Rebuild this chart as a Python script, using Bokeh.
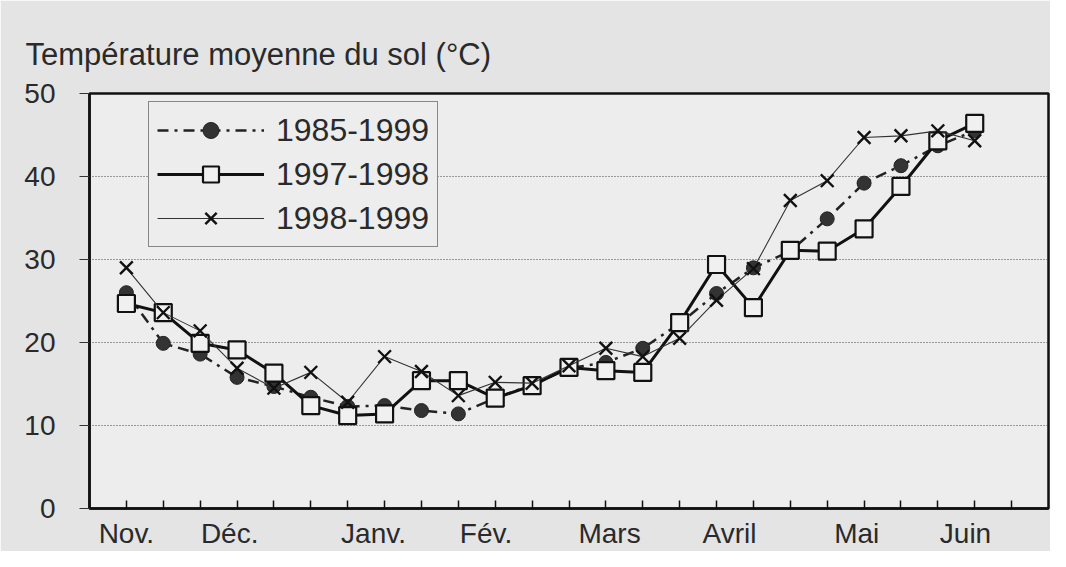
from bokeh.plotting import figure
from bokeh.models import (Range1d, FixedTicker, Legend, LegendItem, Title)
from bokeh.embed import file_html
from bokeh.resources import INLINE

# ---- data (décades, index 1..24) ----
decade = list(range(1, 25))
s_1985_1999 = [26.0, 19.9, 18.6, 15.8, 14.7, 13.4, 12.3, 12.4, 11.8, 11.4, 13.3, 14.9,
               16.9, 17.6, 19.3, 22.3, 25.9, 29.0, 31.0, 34.9, 39.2, 41.3, 43.7, 45.5]
s_1997_1998 = [24.7, 23.6, 19.9, 19.1, 16.3, 12.4, 11.2, 11.4, 15.4, 15.4, 13.3, 14.8,
               17.0, 16.6, 16.4, 22.4, 29.4, 24.2, 31.1, 31.0, 33.7, 38.8, 44.3, 46.4]
s_1998_1999 = [29.0, 23.6, 21.4, 16.9, 14.5, 16.4, 12.8, 18.3, 16.5, 13.6, 15.2, 15.1,
               17.2, 19.3, 18.3, 20.5, 25.1, 28.9, 37.1, 39.5, 44.7, 44.9, 45.5, 44.3]
series_names = ["1985-1999", "1997-1998", "1998-1999"]

month_labels = ["Nov.", "Déc.", "Janv.", "Fév.", "Mars", "Avril", "Mai", "Juin"]
month_pos = [1.0, 3.8, 7.7, 10.75, 14.1, 17.35, 20.8, 23.75]
decade_ticks = list(range(1, 26))
y_ticks = [0, 10, 20, 30, 40, 50]

FONT = "Liberation Sans"
INK = "#2a2a2a"
PAGE_BG = "#e4e4e4"
PLOT_BG = "#ededed"

p = figure(width=1050, height=551, output_backend="svg", toolbar_location=None,
           x_range=Range1d(0, 26), y_range=Range1d(0, 50),
           min_border_left=89, min_border_right=2, min_border_top=93, min_border_bottom=43)
p.background_fill_color = PLOT_BG
p.border_fill_color = PAGE_BG
p.outline_line_color = "#111111"
p.outline_line_width = 2.5

t = Title(text="Température moyenne du sol (°C)", text_font=FONT, text_font_size="31px",
          text_font_style="normal", text_color=INK, align="left", offset=-64, standoff=44)
p.add_layout(t, "above")

# axes
xa = p.xaxis[0]
xa.ticker = FixedTicker(ticks=month_pos, minor_ticks=decade_ticks)
xa.major_label_overrides = {pos: lab for pos, lab in zip(month_pos, month_labels)}
xa.major_tick_in = 0
xa.major_tick_out = 0
xa.minor_tick_in = 8
xa.minor_tick_out = 0
xa.minor_tick_line_color = "#111111"
xa.minor_tick_line_width = 1.5
xa.axis_line_color = "#111111"
xa.axis_line_width = 2.5
xa.major_label_text_font = FONT
xa.major_label_text_font_size = "28px"
xa.major_label_text_color = INK
xa.major_label_standoff = 9

ya = p.yaxis[0]
ya.ticker = FixedTicker(ticks=y_ticks)
ya.major_tick_in = 0
ya.major_tick_out = 10
ya.minor_tick_line_color = None
ya.major_tick_line_color = "#333333"
ya.axis_line_color = "#111111"
ya.axis_line_width = 2.5
ya.major_label_text_font = FONT
ya.major_label_text_font_size = "28px"
ya.major_label_text_color = INK
ya.major_label_standoff = 24

p.xgrid.grid_line_color = None
p.ygrid.ticker = FixedTicker(ticks=[10, 20, 30, 40])
p.ygrid.grid_line_color = "#444444"
p.ygrid.grid_line_dash = "1 2"
p.ygrid.grid_line_width = 1.2

# series
l1 = p.line(decade, s_1985_1999, line_color="#222222", line_width=2.5, line_dash="11 6 3 6")
m1 = p.scatter(decade, s_1985_1999, marker="circle", size=14, fill_color="#333333",
               line_color="#222222")
l2 = p.line(decade, s_1997_1998, line_color="#111111", line_width=3)
m2 = p.scatter(decade, s_1997_1998, marker="square", size=17, fill_color="#f0f0f0",
               line_color="#111111", line_width=2.2)
l3 = p.line(decade, s_1998_1999, line_color="#333333", line_width=1.1)
m3 = p.scatter(decade, s_1998_1999, marker="x", size=18, line_color="#111111", line_width=2.4)

legend = Legend(items=[LegendItem(label=series_names[0], renderers=[l1, m1]),
                       LegendItem(label=series_names[1], renderers=[l2, m2]),
                       LegendItem(label=series_names[2], renderers=[l3, m3])],
                location=(59, 261))
legend.label_text_font = FONT
legend.label_text_font_size = "32px"
legend.label_text_color = INK
legend.glyph_width = 107
legend.glyph_height = 40
legend.label_height = 40
legend.label_standoff = 12
legend.spacing = 4
legend.padding = 8
legend.margin = 0
legend.background_fill_color = PLOT_BG
legend.background_fill_alpha = 1
legend.border_line_color = "#222222"
legend.border_line_width = 1.5
p.add_layout(legend, "center")

open("out.html", "w").write(file_html(p, INLINE))
